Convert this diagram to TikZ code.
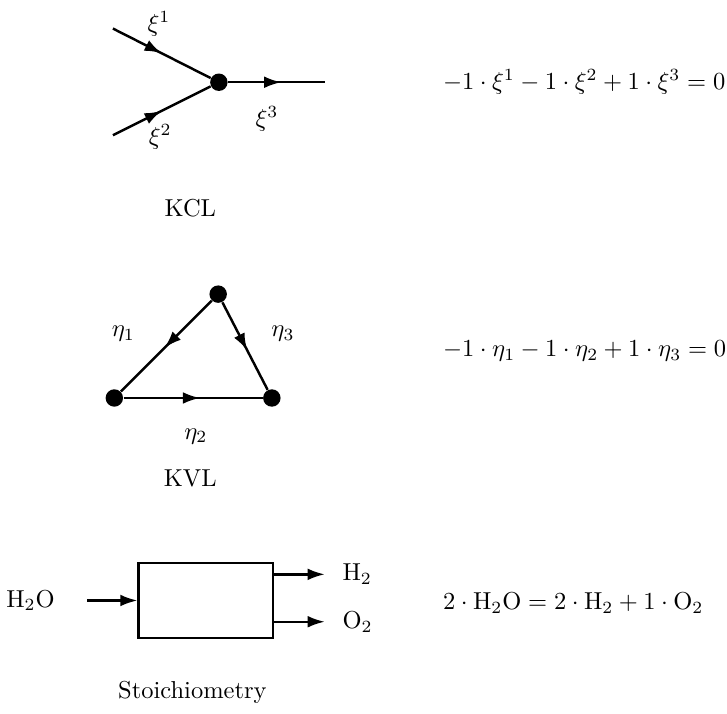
\documentclass[tikz,border=0pt]{standalone}
\usetikzlibrary{arrows.meta,positioning,decorations.markings}

\tikzset{
  dot/.style={circle,fill=black,inner sep=0pt,minimum size=0.25cm},
  wire/.style={line width=1pt},
  eqn/.style={anchor=west,inner sep=0pt},
  mid arrow/.style={postaction={decorate},decoration={markings,
    mark=at position #1 with {\arrow{Latex[length=7pt,width=4.8pt]}}}},
  mid arrow/.default=0.55
}

\begin{document}
\begin{tikzpicture}[>={Latex[length=7pt,width=4.8pt]}]
  \useasboundingbox (0,0) rectangle (10.43,10.23);

  % KCL
  \node[dot] (junc) at (3.14,9.05) {};
  \coordinate (in1) at (1.62,9.82);
  \coordinate (in2) at (1.62,8.29);
  \coordinate (out3) at (4.66,9.05);
  \draw[wire,mid arrow=0.5] (in1) -- (junc);
  \draw[wire,mid arrow=0.5] (in2) -- (junc);
  \draw[wire,mid arrow] (junc) -- (out3);
  \node (xi1) at (2.28,9.89) {$\xi^1$};
  \node (xi2) at (2.30,8.27) {$\xi^2$};
  \node (xi3) at (3.83,8.52) {$\xi^3$};
  \node (kcl) at (2.73,7.25) {KCL};
  \node[eqn] (eqkcl) at (6.35,9.05) {$-1\cdot\xi^1-1\cdot\xi^2+1\cdot\xi^3=0$};

  % KVL
  \node[dot] (top) at (3.13,6.01) {};
  \node[dot] (left) at (1.64,4.52) {};
  \node[dot] (right) at (3.90,4.52) {};
  \draw[wire,mid arrow=0.52] (top) -- (left);
  \draw[wire,mid arrow] (top) -- (right);
  \draw[wire,mid arrow] (left) -- (right);
  \node (eta1) at (1.77,5.44) {$\eta_1$};
  \node (eta3) at (4.06,5.44) {$\eta_3$};
  \node (eta2) at (2.81,3.97) {$\eta_2$};
  \node (kvl) at (2.73,3.36) {KVL};
  \node[eqn] (eqkvl) at (6.35,5.19) {$-1\cdot\eta_1-1\cdot\eta_2+1\cdot\eta_3=0$};

  % Stoichiometry
  \node[draw,line width=1pt,minimum width=1.93cm,minimum height=1.07cm] (box) at (2.955,1.615) {};
  \coordinate (instart) at (1.25,1.615);
  \coordinate (h2end) at (4.66,1.99);
  \coordinate (o2end) at (4.66,1.31);
  \draw[wire,->] (instart) -- (box.west);
  \draw[wire,->] (box.east |- h2end) -- (h2end);
  \draw[wire,->] (box.east |- o2end) -- (o2end);
  \node[left=0.34cm of instart] (h2o) {H$_2$O};
  \node[right=0.13cm of h2end] (h2) {H$_2$};
  \node[right=0.13cm of o2end] (o2) {O$_2$};
  \node (stoich) at (2.76,0.30) {Stoichiometry};
  \node[eqn] (eqst) at (6.35,1.58) {$2\cdot\mathrm{H_2O}=2\cdot\mathrm{H_2}+1\cdot\mathrm{O_2}$};
\end{tikzpicture}
\end{document}
